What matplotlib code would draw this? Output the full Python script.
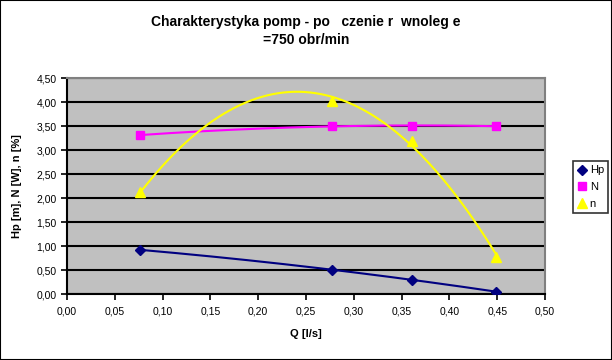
import numpy as np
import matplotlib
matplotlib.use("Agg")
import matplotlib.pyplot as plt
from matplotlib.ticker import FuncFormatter, MultipleLocator
from matplotlib.patches import Rectangle

plt.rcParams['font.family'] = ['Liberation Sans', 'DejaVu Sans']

title = "Charakterystyka pomp - po   czenie r  wnoleg e\n=750 obr/min"
q = [0.0764, 0.277, 0.361, 0.449]
hp = [0.92, 0.51, 0.29, 0.05]
N = [3.31, 3.50, 3.50, 3.50]
n = [2.12, 4.03, 3.19, 0.78]
series_names = ["Hp", "N", "n"]
colors = ["#000080", "#FF00FF", "#FFFF00"]
markers = ["D", "s", "^"]
msizes = [5, 6, 6.5]

fig = plt.figure(figsize=(6.12, 3.6), dpi=100)
fig.patches.append(Rectangle((0, 0), 1, 1, transform=fig.transFigure, fill=False,
                             edgecolor='black', linewidth=1.5))
ax = fig.add_axes([67/612, 66/360, 478/612, 216/360])
ax.set_facecolor('#C0C0C0')

ax.set_xlim(0, 0.5)
ax.set_ylim(0, 4.5)
ax.xaxis.set_major_locator(MultipleLocator(0.05))
ax.yaxis.set_major_locator(MultipleLocator(0.5))
fmt = FuncFormatter(lambda v, p: f"{v:.2f}".replace('.', ','))
ax.xaxis.set_major_formatter(fmt)
ax.yaxis.set_major_formatter(fmt)
ax.grid(axis='y', color='black', linewidth=1.5)
ax.set_axisbelow(True)
ax.tick_params(direction='out', length=4, width=1.2, labelsize=7.5, colors='black')
ax.tick_params(axis='x', pad=5)
for s in ['left', 'bottom']:
    ax.spines[s].set_color('black')
    ax.spines[s].set_linewidth(1.5)
for s in ['top', 'right']:
    ax.spines[s].set_color('#808080')
    ax.spines[s].set_linewidth(1.5)

handles = []
for name, ys, c, m, ms in zip(series_names, [hp, N, n], colors, markers, msizes):
    coef = np.polyfit(q, ys, 2)
    xs = np.linspace(min(q), max(q), 200)
    ax.plot(xs, np.polyval(coef, xs), color=c, linewidth=1.5, zorder=3)
    h, = ax.plot(q, ys, linestyle='none', marker=m, color=c, markersize=ms,
                 markeredgecolor=c, zorder=4, label=name)
    handles.append(h)

ax.set_xlabel("Q [l/s]", fontsize=8, fontweight='bold', labelpad=9)
ax.set_ylabel("Hp [m], N [W], n [%]", fontsize=8, fontweight='bold', labelpad=10)

fig.text(0.5, 1 - 31/360, title, ha='center', va='center', fontsize=10,
         fontweight='bold', linespacing=1.4)

leg = fig.legend(handles=handles, loc='upper left', bbox_to_anchor=(573/612, 1 - 161/360),
                 frameon=True, fancybox=False, fontsize=8, handlelength=0.8,
                 handletextpad=0.3, borderpad=0.4, labelspacing=0.6, borderaxespad=0)
leg.get_frame().set_edgecolor('black')
leg.get_frame().set_linewidth(1.2)

fig.savefig("out.png", dpi=100)
